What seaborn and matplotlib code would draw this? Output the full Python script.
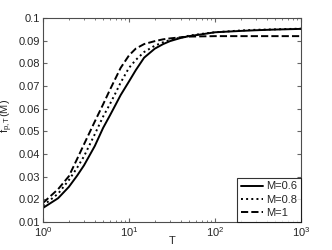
import pandas as pd
import numpy as np
import matplotlib
matplotlib.use('Agg')
import matplotlib.pyplot as plt
import seaborn as sb

T = [1, 1.5, 2, 2.5, 3, 4, 5, 6, 7, 8, 10, 12, 15, 20, 25, 30, 40, 50, 70, 100, 200, 300, 500, 1000]
f_m06 = [0.0162, 0.0205, 0.0255, 0.0305, 0.035, 0.0435, 0.0515, 0.057, 0.0618, 0.066, 0.072, 0.077, 0.0825,
         0.0865, 0.0885, 0.0898, 0.0912, 0.092, 0.0928, 0.0937, 0.0943, 0.0946, 0.0949, 0.0952]
f_m08 = [0.0172, 0.0225, 0.0285, 0.034, 0.039, 0.0487, 0.0565, 0.062, 0.067, 0.0715, 0.078, 0.0815, 0.085,
         0.0878, 0.0893, 0.0903, 0.0914, 0.0922, 0.093, 0.0937, 0.0945, 0.0948, 0.095, 0.0953]
f_m1 = [0.0184, 0.0245, 0.0302, 0.0379, 0.0443, 0.0543, 0.0619, 0.0683, 0.0735, 0.078, 0.0835, 0.0865, 0.0885,
        0.0898, 0.0906, 0.091, 0.0915, 0.0918, 0.0919, 0.092, 0.092, 0.092, 0.092, 0.092]
etiquetas = ['M=0.6', 'M=0.8', 'M=1']

sb.set_style('ticks')
plt.rcParams['font.family'] = ['Liberation Sans', 'DejaVu Sans']
plt.rcParams['mathtext.fontset'] = 'custom'
plt.rcParams['mathtext.rm'] = 'Liberation Sans'
plt.rcParams['mathtext.it'] = 'Liberation Sans'

fig = plt.figure(figsize=(3.32, 2.5), dpi=100)
ax = fig.add_axes([0.1295, 0.112, 0.777, 0.816])

estilos = ['-', ':', '--']
for vals, lab, ls in zip([f_m06, f_m08, f_m1], etiquetas, estilos):
    datos = pd.DataFrame({'T': T, 'f': vals})
    sb.lineplot(data=datos, x='T', y='f', ax=ax, color='k', linestyle=ls, linewidth=1.4, label=lab)

ax.set_xscale('log')
ax.set_xlim(1, 1000)
ax.set_ylim(0.01, 0.1)
ax.set_yticks(np.arange(0.01, 0.1001, 0.01))
ax.set_yticklabels(['0.01', '0.02', '0.03', '0.04', '0.05', '0.06', '0.07', '0.08', '0.09', '0.1'])
ax.set_xlabel('T', fontsize=8)
ax.set_ylabel(r'f$_{\rm p,T}$(M)', fontsize=8)
ax.xaxis.set_label_coords(0.5, -0.07)
ax.yaxis.set_label_coords(-0.108, 0.52)
ax.tick_params(which='both', direction='in', top=True, right=True, labelsize=8, color='0.4', pad=2)
ax.tick_params(which='major', length=3)
ax.tick_params(which='minor', length=1.5)
for s in ax.spines.values():
    s.set_color('0.3')
    s.set_linewidth(0.8)

leg = ax.legend(loc='lower right', borderaxespad=0, fontsize=8, fancybox=False, handlelength=2.0,
                handletextpad=0.3, borderpad=0.35, labelspacing=0.3)
leg.get_frame().set_edgecolor('k')
leg.get_frame().set_linewidth(0.8)
fig.savefig('out.png', dpi=100)
